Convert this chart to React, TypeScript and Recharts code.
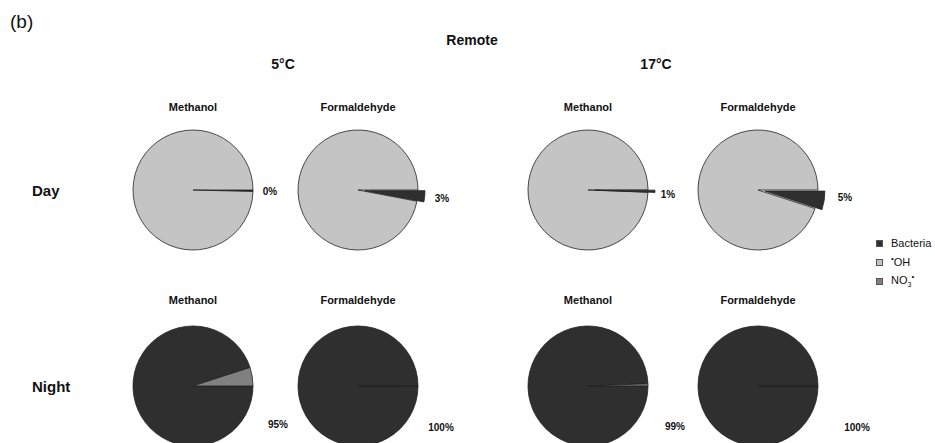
import React from 'react';
import { PieChart, Pie, Cell } from 'recharts';

// sinks in drawing order (clockwise from 3 o'clock)
const sinks = ['Bacteria', 'OH', 'NO3'];
const compounds = ['Methanol', 'Formaldehyde', 'Methanol', 'Formaldehyde'];
const temperatures = ['5°C', '17°C'];
const periods = ['Day', 'Night'];

// one entry per pie: 5°C Methanol, 5°C Formaldehyde, 17°C Methanol, 17°C Formaldehyde
const dayBacteria = [0.4, 3, 0.6, 5];
const dayOH = [99.6, 97, 99.4, 95];
const dayNO3 = [0, 0, 0, 0];
const nightBacteria = [95, 100, 99.4, 100];
const nightOH = [0, 0, 0, 0];
const nightNO3 = [5, 0, 0.6, 0];

// layout
const W = 935;
const H = 443;
const R = 60;
const pieX = [193, 358, 588, 758];
const rowY = [190, 386];
const titleY = [107, 300];
const tempX = [283, 656];
const explode = [[0, 7, 7, 7], [0, 0, 0, 0]];
const labelPos = [
    [[270, 192], [442, 199], [668, 195], [845, 198]],
    [[278, 425], [441, 428], [675, 427], [857, 428]],
];

const colors: Record<string, string> = {
    Bacteria: '#2f2f2f',
    OH: '#c4c4c4',
    NO3: '#808080',
};

const rows = [
    { bacteria: dayBacteria, oh: dayOH, no3: dayNO3 },
    { bacteria: nightBacteria, oh: nightOH, no3: nightNO3 },
];

const makeData = (row: number, i: number) => {
    const r = rows[row];
    return [
        { name: sinks[0], value: r.bacteria[i] },
        { name: sinks[1], value: r.oh[i] },
        { name: sinks[2], value: r.no3[i] },
    ];
};

const font = '"Liberation Sans", Arial, sans-serif';

const Txt: React.FC<{ x: number; y: number; size: number; bold?: boolean; align?: 'left' | 'center'; children: React.ReactNode }> = ({
    x, y, size, bold, align = 'center', children,
}) => (
    <div
        style={{
            position: 'absolute',
            left: x,
            top: y,
            transform: align === 'center' ? 'translate(-50%, -50%)' : 'translate(0, -50%)',
            fontSize: size,
            fontWeight: bold ? 700 : 400,
            whiteSpace: 'nowrap',
            lineHeight: 1,
            color: '#111',
        }}
    >
        {children}
    </div>
);

export default function App() {
    const pies: React.ReactNode[] = [];
    rows.forEach((_, row) => {
        pieX.forEach((cx, i) => {
            const data = makeData(row, i);
            const cy = rowY[row];
            const ex = explode[row][i];
            pies.push(
                <Pie
                    key={`base-${row}-${i}`}
                    data={data}
                    dataKey="value"
                    cx={cx}
                    cy={cy}
                    outerRadius={R}
                    startAngle={0}
                    endAngle={-360}
                    stroke="#222"
                    strokeWidth={0.8}
                    isAnimationActive={false}
                >
                    {data.map((d) => (
                        <Cell
                            key={d.name}
                            fill={ex && d.name === 'Bacteria' ? '#ffffff' : colors[d.name]}
                            stroke={ex && d.name === 'Bacteria' ? 'none' : '#222'}
                        />
                    ))}
                </Pie>
            );
            if (ex) {
                // pulled-out bacteria slice, shifted along its bisector
                const mid = (-(data[0].value / 100) * 360) / 2;
                const rad = (mid * Math.PI) / 180;
                pies.push(
                    <Pie
                        key={`ex-${row}-${i}`}
                        data={data}
                        dataKey="value"
                        cx={cx + ex * Math.cos(rad)}
                        cy={cy - ex * Math.sin(rad)}
                        outerRadius={R}
                        startAngle={0}
                        endAngle={-360}
                        isAnimationActive={false}
                    >
                        {data.map((d) => (
                            <Cell
                                key={d.name}
                                fill={d.name === 'Bacteria' ? colors.Bacteria : 'transparent'}
                                stroke={d.name === 'Bacteria' ? '#222' : 'none'}
                                strokeWidth={0.8}
                            />
                        ))}
                    </Pie>
                );
            }
        });
    });

    return (
        <div style={{ position: 'absolute', left: 0, top: 0, width: W, height: H, background: '#fff', fontFamily: font, overflow: 'hidden' }}>
            <PieChart width={W} height={H} margin={{ top: 0, right: 0, bottom: 0, left: 0 }}>
                {pies}
            </PieChart>

            <Txt x={10} y={21} size={19} align="left">(b)</Txt>
            <Txt x={472} y={40} size={14} bold>Remote</Txt>
            {temperatures.map((t, k) => (
                <Txt key={t} x={tempX[k]} y={64} size={14} bold>{t}</Txt>
            ))}
            {periods.map((p, row) => (
                <Txt key={p} x={32} y={rowY[row]} size={15} bold align="left">{p}</Txt>
            ))}
            {rows.map((_, row) =>
                pieX.map((cx, i) => (
                    <Txt key={`t-${row}-${i}`} x={cx} y={titleY[row]} size={11} bold>{compounds[i]}</Txt>
                ))
            )}
            {rows.map((r, row) =>
                pieX.map((_, i) => (
                    <Txt key={`p-${row}-${i}`} x={labelPos[row][i][0]} y={labelPos[row][i][1]} size={10} bold>
                        {Math.max(Math.round(r.bacteria[i]), r.bacteria[i] >= 0.5 ? 1 : 0)}%
                    </Txt>
                ))
            )}

            {/* legend */}
            {sinks.map((s, k) => (
                <div key={s} style={{ position: 'absolute', left: 876, top: 243 + k * 19 - 4, height: 8, display: 'flex', alignItems: 'center' }}>
                    <div style={{ width: 7, height: 7, background: colors[s], border: '0.5px solid #555', boxSizing: 'border-box' }} />
                    <div style={{ marginLeft: 8, fontSize: 11, lineHeight: 1, color: '#111', whiteSpace: 'nowrap' }}>
                        {s === 'Bacteria' && 'Bacteria'}
                        {s === 'OH' && (<span><sup style={{ fontSize: 8 }}>•</sup>OH</span>)}
                        {s === 'NO3' && (<span>NO<sub style={{ fontSize: 7 }}>3</sub><sup style={{ fontSize: 8 }}>•</sup></span>)}
                    </div>
                </div>
            ))}
        </div>
    );
}
